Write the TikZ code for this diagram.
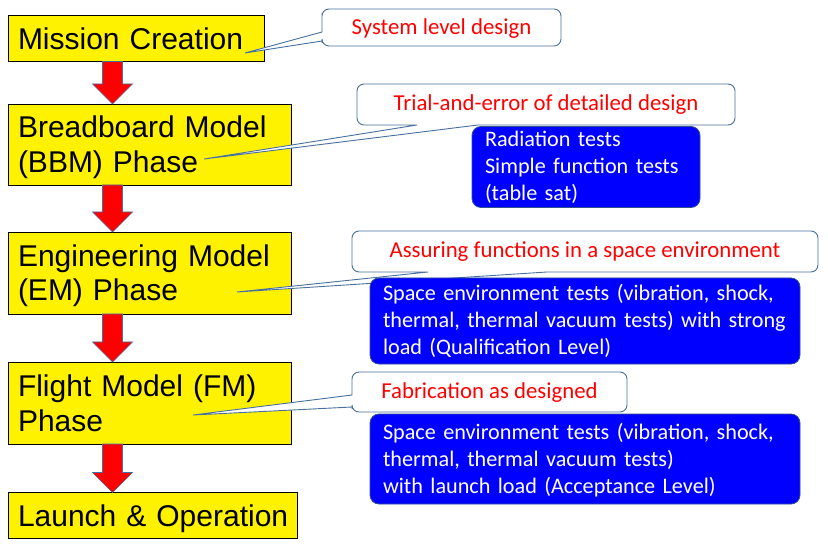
\documentclass[tikz,border=0pt]{standalone}
\usepackage{fontspec}
\newfontfamily\arialf{Liberation Sans}
\newfontfamily\calib{Carlito}
\usetikzlibrary{calc}
\definecolor{cborder}{RGB}{72,112,158}
\definecolor{bfill}{RGB}{0,0,255}
\definecolor{bborder}{RGB}{47,82,143}
\definecolor{ared}{RGB}{255,0,0}
\definecolor{aborder}{RGB}{65,113,156}
\newcommand{\yl}[1]{\rule{0pt}{21.5pt}\smash{#1}}
\newcommand{\bl}[1]{\rule{0pt}{14pt}\smash{#1}}
\tikzset{
  ybox/.style={draw=black, line width=0.8pt, fill=yellow, inner xsep=10pt, inner ysep=0pt,
    outer sep=0pt, align=left, font=\arialf\fontsize{30}{34.5}\selectfont},
  bbox/.style={draw=bborder, line width=0.8pt, fill=bfill, rounded corners=9pt, text=white,
    inner xsep=13pt, inner ysep=0pt, outer sep=0pt, align=left,
    font=\calib\fontsize{22.2}{27}\selectfont},
  cshape/.style={draw=cborder, line width=0.9pt, fill=white},
  ctext/.style={text=ared, inner sep=0pt, font=\calib\fontsize{22.8}{26}\selectfont},
  redarrow/.style={draw=aborder, line width=0.7pt, fill=ared},
}
\newcommand{\blockarrow}[2]{%
  \draw[redarrow] let \p1=(#1.south west), \p2=(#2.north west) in
    (\x1+94.5pt,\y1) -- (\x1+114.5pt,\y1) -- (\x1+114.5pt,\y2+20pt) -- (\x1+124.5pt,\y2+20pt)
    -- (\x1+104.5pt,\y2) -- (\x1+84.5pt,\y2+20pt) -- (\x1+94.5pt,\y2+20pt) -- cycle;}
\begin{document}
\begin{tikzpicture}[x=1pt,y=-1pt]
\useasboundingbox (0,0) rectangle (828,548);
\fill[white] (0,0) rectangle (828,548);

% phase boxes
\node[ybox, text width=236pt, minimum height=46pt] (mc) at (136,38.5) {\yl{Mission Creation}};
\node[ybox, text width=263pt, minimum height=81pt] (bbm) at (149.5,144.5) {\yl{Breadboard Model}\\\yl{(BBM) Phase}};
\node[ybox, text width=263pt, minimum height=82pt] (em) at (149.5,273) {\yl{Engineering Model}\\\yl{(EM) Phase}};
\node[ybox, text width=263pt, minimum height=82pt] (fm) at (149.5,403) {\yl{Flight Model (FM)}\\\yl{Phase}};
\node[ybox, text width=269pt, minimum height=46pt] (lo) at (152.5,515.5) {\yl{Launch \& Operation}};

% block arrows
\blockarrow{mc}{bbm}
\blockarrow{bbm}{em}
\blockarrow{em}{fm}
\blockarrow{fm}{lo}

% callouts
\coordinate (t1) at (245,53);
\draw[cshape] (t1) -- (322,41) -- (322,43) [rounded corners=7pt] -- (322,46) -- (561,46) -- (561,9)
  -- (322,9) -- (322,20) [sharp corners] -- (322,32) -- cycle;
\node[ctext] (c1) at (441.5,28.5) {System level design};

\coordinate (t2) at (204,159);
\draw[cshape] (t2) -- (478,125) -- (490,125) [rounded corners=7pt] -- (735,125) -- (735,84)
  -- (357,84) -- (357,125) -- (400,125) [sharp corners] -- (417,125) -- cycle;
\node[ctext] (c2) at (546,105) {Trial-and-error of detailed design};

\coordinate (t3) at (237,292);
\draw[cshape] (t3) -- (547,272) -- (560,272) [rounded corners=7pt] -- (818,272) -- (818,231)
  -- (352,231) -- (352,272) -- (410,272) [sharp corners] -- (428,272) -- cycle;
\node[ctext] (c3) at (585,252) {Assuring functions in a space environment};

\coordinate (t4) at (193,415);
\draw[cshape] (t4) -- (352,407) -- (352,409) [rounded corners=7pt] -- (352,412) -- (627,412) -- (627,372)
  -- (352,372) -- (352,385) [sharp corners] -- (352,395) -- cycle;
\node[ctext] (c4) at (489.5,393) {Fabrication as designed};

% blue test boxes
\node[bbox, text width=202pt, minimum height=81pt] (b1) at (586,167)
  {\bl{Radiation tests}\\\bl{Simple function tests}\\\bl{(table sat)}};
\node[bbox, text width=404pt, minimum height=86pt] (b2) at (585,321)
  {\bl{Space environment tests (vibration, shock,}\\\bl{thermal, thermal vacuum tests) with strong}\\\bl{load (Qualification Level)}};
\node[bbox, text width=404pt, minimum height=90pt] (b3) at (585,459)
  {\bl{Space environment tests (vibration, shock,}\\\bl{thermal, thermal vacuum tests)}\\\bl{with launch load (Acceptance Level)}};
\end{tikzpicture}
\end{document}
